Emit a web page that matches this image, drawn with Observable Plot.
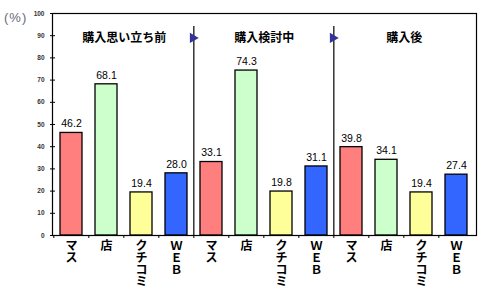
<!DOCTYPE html>
<html><head><meta charset="utf-8">
<script src="https://cdn.jsdelivr.net/npm/d3@7"></script>
<script src="https://cdn.jsdelivr.net/npm/@observablehq/plot@0.6"></script>
<style>
body{margin:0;background:#fff;}
#wrap{position:relative;width:485px;height:288px;}
#unit{position:absolute;left:4px;top:10px;font:13px "Liberation Sans","Noto Sans CJK JP",sans-serif;color:#6a6a7a;letter-spacing:1px;}
</style>
</head><body>
<div id="wrap"><div id="unit">(%)</div></div>
<script>
const phases = ["購入思い立ち前","購入検討中","購入後"];
const channels = ["マス","店","クチコミ","ＷＥＢ"];
const values = [
  [46.2, 68.1, 19.4, 28.0],
  [33.1, 74.3, 19.8, 31.1],
  [39.8, 34.1, 19.4, 27.4]
];
const colors = ["#FF7F7F","#CCFFCC","#FFFF99","#3366FF"];
const yTicks = [0,10,20,30,40,50,60,70,80,90,100];

const rows = [];
phases.forEach((p, i) => channels.forEach((c, j) => rows.push({key: i + "|" + c, phase: p, pi: i, channel: c, ci: j, value: values[i][j]})));
const keys = rows.map(d => d.key);
const step = (485 - 52 - 9) / keys.length;
const groupStarts = rows.filter(d => d.ci === 0 && d.pi > 0);
const titleRows = rows.filter(d => d.ci === 1);
const font = "'Liberation Sans','Noto Sans CJK JP',sans-serif";

const chart = Plot.plot({
  width: 485, height: 288,
  marginLeft: 52, marginRight: 9, marginTop: 13, marginBottom: 53,
  style: {fontFamily: font, background: "#fff"},
  x: {domain: keys, paddingInner: 0.37, paddingOuter: 0.185, label: null},
  y: {domain: [0, 100], label: null},
  color: {domain: channels, range: colors},
  marks: [
    Plot.barY(rows, {x: "key", y: "value", fill: "channel", stroke: "#000", strokeWidth: 1.3}),
    Plot.text(rows, {x: "key", y: "value", text: d => d.value.toFixed(1), dy: -9, fontSize: 10.5, fontWeight: d => d.pi === 0 ? "bold" : "normal", fill: "#000"}),
    Plot.ruleX(rows, {x: "key", dx: -step / 2, y1: 0, y2: 0, insetBottom: -3, stroke: "#000"}),
    Plot.ruleX(groupStarts, {x: "key", dx: -step / 2, y1: 0, y2: 95.5, insetBottom: -3, stroke: "#000", strokeWidth: 1.2}),
    Plot.dot(groupStarts, {x: "key", dx: -step / 2 - 1, y: 89, symbol: "triangle", rotate: 90, r: 3.8, fill: "#333399", stroke: "none"}),
    Plot.text(titleRows, {x: "key", dx: step / 2, y: 89, text: "phase", fontSize: 12, fontWeight: "bold", fill: "#000"}),
    Plot.tickY(yTicks, {y: d => d, frameAnchor: "left", insetLeft: -2, insetRight: 421, stroke: "#000"}),
    Plot.axisY({ticks: yTicks, tickSize: 0, tickPadding: 8, fontSize: 6.5, fontWeight: "bold", fill: "#333"}),
    Plot.axisX({tickSize: 0, tickPadding: 6, tickFormat: k => Array.from(k.split("|")[1]).join("\n"), fontSize: 12, fontWeight: "bold", lineHeight: 1, lineAnchor: "top", fill: "#000"}),
    Plot.frame({stroke: "#000", strokeWidth: 1.2})
  ]
});
document.getElementById("wrap").appendChild(chart);
</script>
</body></html>
